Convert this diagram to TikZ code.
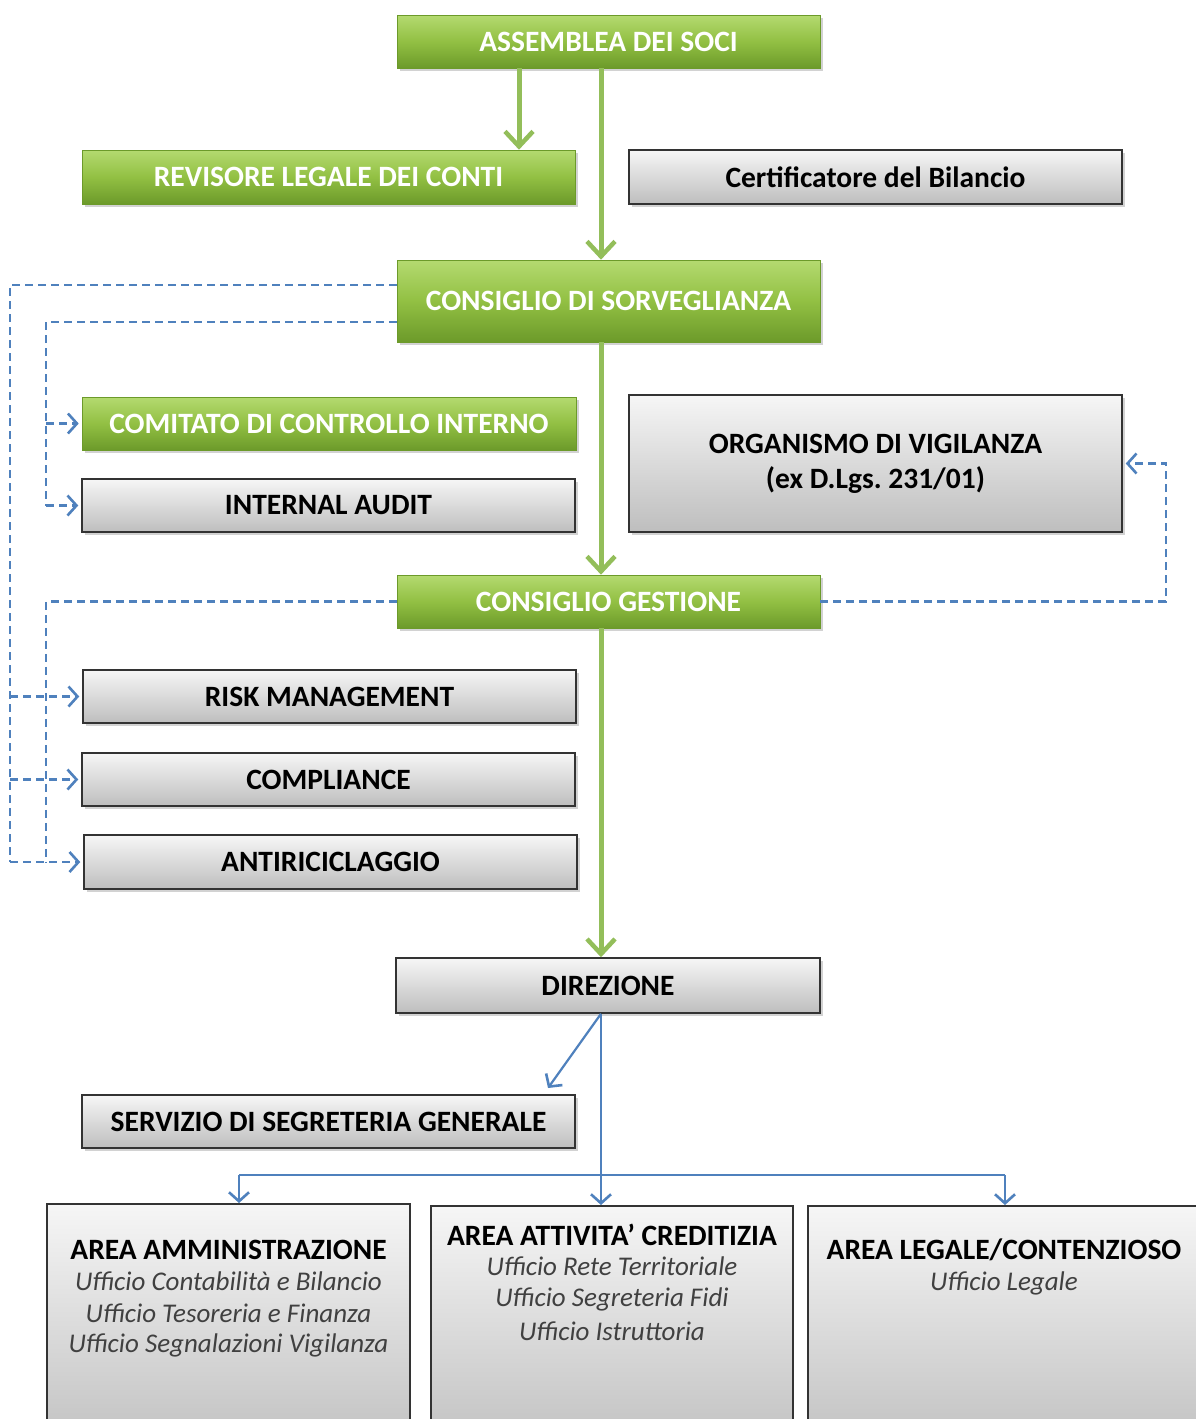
\documentclass[tikz,border=0pt]{standalone}
\usepackage{fontspec}
\setmainfont{Carlito}
\usetikzlibrary{arrows.meta,shadows,calc}
\frenchspacing
\definecolor{gtop}{HTML}{B4DA70}
\definecolor{gmid}{HTML}{92C043}
\definecolor{gbot}{HTML}{6C9A2A}
\definecolor{gytop}{HTML}{F6F6F6}
\definecolor{gybot}{HTML}{BEBEBE}
\definecolor{bl}{HTML}{4F81BD}
\definecolor{glin}{HTML}{93BE5A}
\tikzset{
  box/.style={rectangle, inner sep=0pt, align=center,
    drop shadow={opacity=0.35, shadow xshift=3pt, shadow yshift=-3pt}},
  greenbox/.style={box, top color=gtop, bottom color=gbot, middle color=gmid,
    draw=gbot, line width=0.6pt, text=white},
  graybox/.style={box, top color=gytop, bottom color=gybot,
    draw=black!80, line width=1.5pt, text=black},
  areabox/.style={rectangle, top color=gytop, bottom color=gybot!90!white,
    draw=black!80, line width=1.5pt},
  garrow/.style={draw=glin, line width=5pt,
    -{Straight Barb[length=15pt,width=28pt,line width=4.5pt]}},
  bdash/.style={draw=bl, line width=2.4pt, dash pattern=on 8pt off 5pt},
  bsolid/.style={draw=bl, line width=2.2pt},
  barrow/.style={-{Straight Barb[length=9pt,width=20pt,line width=2.6pt]}},
  titlet/.style={inner sep=0pt, font=\fontsize{29.5}{32}\selectfont\bfseries, text=black},
  subt/.style={inner sep=0pt, font=\fontsize{27}{30}\selectfont\itshape, text=black!75},
}
\begin{document}
\begin{tikzpicture}[x=1pt,y=-1pt,font=\fontsize{29.5}{35}\selectfont\bfseries]
\useasboundingbox (0,0) rectangle (1196,1419);
\fill[white] (0,0) rectangle (1196,1419);

% boxes
\node[greenbox, minimum width=423pt, minimum height=53pt] (ass) at (608.5,41.5) {ASSEMBLEA DEI SOCI};
\node[greenbox, minimum width=493pt, minimum height=54pt] (rev) at (328.5,177) {REVISORE LEGALE DEI CONTI};
\node[graybox, minimum width=493pt, minimum height=54pt] (cert) at (875.5,177) {Certificatore del Bilancio};
\node[greenbox, minimum width=423pt, minimum height=82pt] (cs) at (608.5,301) {CONSIGLIO DI SORVEGLIANZA};
\node[greenbox, minimum width=494pt, minimum height=53pt] (com) at (329,423.5) {COMITATO DI CONTROLLO INTERNO};
\node[graybox, minimum width=493pt, minimum height=53pt] (aud) at (328.5,505.5) {INTERNAL AUDIT};
\node[graybox, minimum width=493pt, minimum height=137pt] (org) at (875.5,463.5) {ORGANISMO DI VIGILANZA\\(ex D.Lgs. 231/01)};
\node[greenbox, minimum width=423pt, minimum height=53pt] (cg) at (608.5,601.5) {CONSIGLIO GESTIONE};
\node[graybox, minimum width=493pt, minimum height=53pt] (risk) at (329.5,696.5) {RISK MANAGEMENT};
\node[graybox, minimum width=493pt, minimum height=53pt] (comp) at (328.5,779.5) {COMPLIANCE};
\node[graybox, minimum width=493pt, minimum height=54pt] (anti) at (330.5,862) {ANTIRICICLAGGIO};
\node[graybox, minimum width=424pt, minimum height=55pt] (dir) at (608,985.5) {DIREZIONE};
\node[graybox, minimum width=493pt, minimum height=53pt] (serv) at (328.5,1121.5) {SERVIZIO DI SEGRETERIA GENERALE};

% area boxes (running off the bottom edge)
\node[areabox, minimum width=363pt, minimum height=227pt, anchor=north] (amm) at (228.5,1203) {};
\node[areabox, minimum width=362pt, minimum height=225pt, anchor=north] (att) at (612,1205) {};
\node[areabox, minimum width=397pt, minimum height=225pt, anchor=north] (leg) at (1006.5,1205) {};

\node[titlet] (ammT) at (228.5,1250) {AREA AMMINISTRAZIONE};
\node[subt] (amm1) at (228.5,1281) {Ufficio Contabilità e Bilancio};
\node[subt] (amm2) at (228.5,1313) {Ufficio Tesoreria e Finanza};
\node[subt] (amm3) at (228.5,1345) {Ufficio Segnalazioni Vigilanza};
\node[titlet] (attT) at (612,1235) {AREA ATTIVITA’ CREDITIZIA};
\node[subt] (att1) at (612,1266) {Ufficio Rete Territoriale};
\node[subt] (att2) at (612,1299) {Ufficio Segreteria Fidi};
\node[subt] (att3) at (612,1331) {Ufficio Istruttoria};
\node[titlet] (legT) at (1004,1250) {AREA LEGALE/CONTENZIOSO};
\node[subt] (leg1) at (1004,1283) {Ufficio Legale};

% green connectors
\draw[garrow] ([xshift=-89.5pt]ass.south) -- ([xshift=-89.5pt]ass.south |- rev.north);
\draw[garrow] ([xshift=-7.5pt]ass.south) -- ([xshift=-7.5pt]ass.south |- cs.north);
\draw[garrow] ([xshift=-7.5pt]cs.south) -- ([xshift=-7.5pt]cs.south |- cg.north);
\draw[garrow] ([xshift=-7.5pt]cg.south) -- ([xshift=-7.5pt]cg.south |- dir.north);

% dashed control links
\coordinate (L1) at (10,0);
\coordinate (L2) at (46,0);
\coordinate (R1) at (1166,0);
\draw[bdash] ([yshift=16pt]cs.west) -| (L1 |- anti.west);
\foreach \n in {risk,comp,anti} \draw[bdash,barrow] (L1 |- \n.west) -- ([xshift=-3pt]\n.west);
\draw[bdash] ([yshift=-21pt]cs.west) -| (L2 |- aud.west);
\foreach \n in {com,aud} \draw[bdash,barrow] (L2 |- \n.west) -- ([xshift=-3pt]\n.west);
\draw[bdash] (cg.west) -| (L2 |- anti.west);
\draw[bdash,barrow] (cg.east) -| (R1 |- org.east) -- ([xshift=3pt]org.east);

% solid blue links
\coordinate (dS) at ([xshift=-7pt]dir.south);
\coordinate (sv) at (548,1088);
\coordinate (H) at (0,1175);
\coordinate (ax) at ([xshift=10.5pt]amm.north);
\coordinate (lx) at ([xshift=-1.5pt]leg.north);
\draw[bsolid,barrow] (dS) -- (sv);
\draw[bsolid,barrow] (dS) -- (dS |- att.north);
\draw[bsolid] (ax |- H) -- (lx |- H);
\draw[bsolid,barrow] (ax |- H) -- (ax);
\draw[bsolid,barrow] (lx |- H) -- (lx);
\end{tikzpicture}
\end{document}
